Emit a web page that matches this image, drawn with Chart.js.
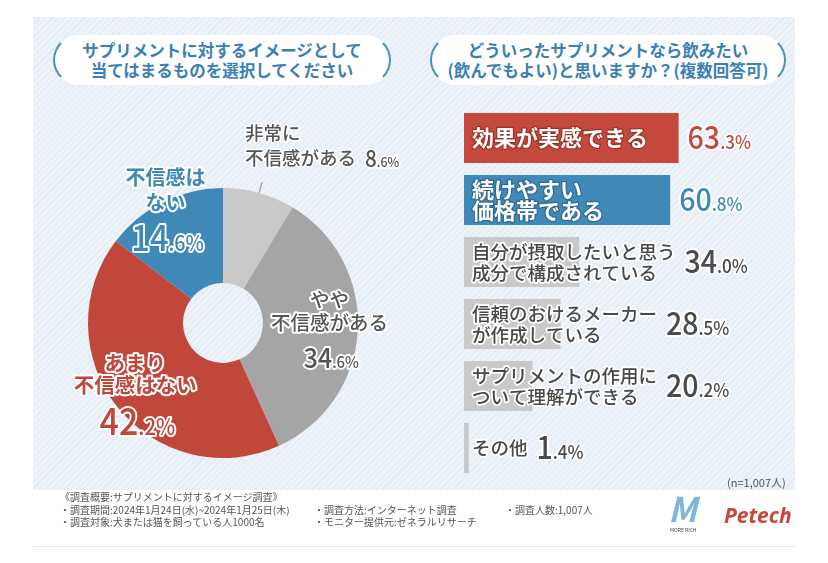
<!DOCTYPE html>
<html lang="ja">
<head>
<meta charset="utf-8">
<script src="https://cdn.jsdelivr.net/npm/chart.js@4.4.1/dist/chart.umd.min.js"></script>
<style>
  body { margin: 0; width: 828px; height: 563px; background: #fff; position: relative; overflow: hidden;
         font-family: 'Noto Sans CJK JP', 'Noto Sans', sans-serif; }
  .panel { position: absolute; left: 33px; top: 17px; width: 762px; height: 473px;
           background: repeating-linear-gradient(135deg, #e2ecf5 0px, #e2ecf5 1.5px, #edf3f9 1.5px, #edf3f9 4.5px); }
  .pill { position: absolute; top: 35px; height: 50px; box-sizing: border-box; background: #fff;
          border-radius: 26px; border: 2px solid #fff; border-left-color: #4a8fbf; border-right-color: #4a8fbf;
          color: #3a80b4; font-weight: 700; font-size: 16.5px; line-height: 20px; text-align: center; padding-top: 3px; }
  canvas { position: absolute; }
  .note { position: absolute; font-size: 11px; color: #555; }
  .foot { position: absolute; font-size: 10px; color: #555; white-space: nowrap; line-height: 12.5px; }
  .rule { position: absolute; left: 33px; top: 546px; width: 762px; height: 1px; background: #e8e8e8; }
</style>
</head>
<body>
<div class="panel"></div>
<div class="pill" style="left:53px;width:338px;">サプリメントに対するイメージとして<br>当てはまるものを選択してください</div>
<div class="pill" style="left:430px;width:356px;">どういったサプリメントなら飲みたい<br>(飲んでもよい)と思いますか？(複数回答可)</div>

<canvas id="pieChart" width="420" height="420" style="left:13px;top:113px;"></canvas>
<canvas id="barChart" width="380" height="390" style="left:440px;top:100px;"></canvas>

<div class="note" style="left:727px;top:474px;">(n=1,007人)</div>

<div class="foot" style="left:60px;top:491px;">《調査概要:サプリメントに対するイメージ調査》<br>・調査期間:2024年1月24日(水)~2024年1月25日(木)<br>・調査対象:犬または猫を飼っている人1000名</div>
<div class="foot" style="left:314px;top:503.5px;">・調査方法:インターネット調査<br>・モニター提供元:ゼネラルリサーチ</div>
<div class="foot" style="left:505px;top:503.5px;">・調査人数:1,007人</div>
<div class="foot" style="left:668px;top:490px;font-size:34px;line-height:36px;font-style:italic;font-weight:700;color:#7fb6d8;">M</div>
<div class="foot" style="left:670px;top:527px;font-size:5px;line-height:6px;color:#444;">MORE RICH</div>
<div class="foot" style="left:724px;top:502px;font-size:21px;line-height:26px;font-style:italic;font-weight:700;color:#c8473c;font-family:'Noto Sans','DejaVu Sans',sans-serif;">Petech</div>
<div class="rule"></div>

<script>
// pie: 不信感
const pieLabels = [['非常に', '不信感がある'], ['やや', '不信感がある'], ['あまり', '不信感はない'], ['不信感は', 'ない']];
const pieValues = [8.6, 34.6, 42.2, 14.6];
const pieColors = ['#c9c9c9', '#a5a5a5', '#c2473b', '#3f88b7'];
const pieTextColors = ['#555555', '#555555', '#c2473b', '#3f88b7'];

// bar: 飲みたいサプリ
const barLabels = [['効果が実感できる'], ['続けやすい', '価格帯である'], ['自分が摂取したいと思う', '成分で構成されている'],
                   ['信頼のおけるメーカー', 'が作成している'], ['サプリメントの作用に', 'ついて理解ができる'], ['その他']];
const barValues = [63.3, 60.8, 34.0, 28.5, 20.2, 1.4];
const barColors = ['#c4483c', '#4189b9', '#c9c9c9', '#c9c9c9', '#c9c9c9', '#c9c9c9'];

const JP = "'Noto Sans CJK JP', 'Noto Sans', sans-serif";

function outlined(ctx, text, x, y, font, fill, stroke, lw) {
    ctx.font = font;
    ctx.lineJoin = 'round';
    ctx.lineWidth = lw;
    ctx.strokeStyle = stroke;
    ctx.strokeText(text, x, y);
    ctx.fillStyle = fill;
    ctx.fillText(text, x, y);
}

// big integer part + small ".x%"
function drawPct(ctx, value, x, y, size, fill, stroke, align) {
    const parts = value.toFixed(1).split('.');
    const big = parts[0], small = '.' + parts[1] + '%';
    const sx = 0.92, smallSize = size * 0.6;
    ctx.font = `500 ${size}px ${JP}`;
    const wb = ctx.measureText(big).width;
    ctx.font = `500 ${smallSize}px ${JP}`;
    const ws = ctx.measureText(small).width;
    const total = (wb + ws) * sx;
    const x0 = align === 'center' ? x - total / 2 : x;
    const base = y + size * 0.37;
    ctx.save();
    ctx.translate(x0, base);
    ctx.scale(sx, 1);
    ctx.textAlign = 'left';
    ctx.textBaseline = 'alphabetic';
    outlined(ctx, big, 0, 0, `500 ${size}px ${JP}`, fill, stroke, 4);
    outlined(ctx, small, wb, 0, `500 ${smallSize}px ${JP}`, fill, stroke, 4);
    ctx.restore();
    return total;
}

const pieText = {
    id: 'pieText',
    afterDatasetsDraw(chart) {
        const ctx = chart.ctx;
        const arcs = chart.getDatasetMeta(0).data;
        ctx.save();
        ctx.textBaseline = 'middle';
        arcs.forEach((arc, i) => {
            const mid = (arc.startAngle + arc.endAngle) / 2;
            const R = arc.outerRadius;
            const col = pieTextColors[i];
            if (i === 0) {
                // small slice: leader line and label outside
                const p1 = { x: arc.x + Math.cos(mid) * R, y: arc.y + Math.sin(mid) * R };
                const p2 = { x: arc.x + Math.cos(mid) * (R + 11), y: arc.y + Math.sin(mid) * (R + 11) };
                ctx.strokeStyle = '#aaaaaa';
                ctx.lineWidth = 1.5;
                ctx.beginPath(); ctx.moveTo(p1.x, p1.y); ctx.lineTo(p2.x, p2.y); ctx.stroke();
                const lx = p2.x - 17;
                ctx.textAlign = 'left';
                const f = `500 18.5px ${JP}`;
                outlined(ctx, pieLabels[i][0], lx, p2.y - 49, f, col, '#ffffff', 3);
                outlined(ctx, pieLabels[i][1], lx, p2.y - 24, f, col, '#ffffff', 3);
                ctx.font = f;
                const w = ctx.measureText(pieLabels[i][1]).width;
                drawPct(ctx, pieValues[i], lx + w + 9, p2.y - 24, 22.5, col, '#ffffff', 'left');
                return;
            }
            const k = [0, 0.79, 0.83, 0.96][i];
            const cx = arc.x + Math.cos(mid) * R * k;
            const cy = arc.y + Math.sin(mid) * R * k;
            const size = [0, 19.5, 20.5, 20][i];
            const numSize = [0, 27, 37, 35.5][i];
            const offs = [[0, 0, 0], [-29, -6, 29], [-30, -8, 29], [-29, -4, 31]][i];
            ctx.textAlign = 'center';
            const f = `${i === 1 ? 500 : 700} ${size}px ${JP}`;
            outlined(ctx, pieLabels[i][0], cx, cy + offs[0], f, col, '#ffffff', 4);
            outlined(ctx, pieLabels[i][1], cx, cy + offs[1], f, col, '#ffffff', 4);
            drawPct(ctx, pieValues[i], cx + 2, cy + offs[2], numSize, col, '#ffffff', 'center');
        });
        ctx.restore();
    }
};

const barText = {
    id: 'barText',
    afterDatasetsDraw(chart) {
        const ctx = chart.ctx;
        const bars = chart.getDatasetMeta(0).data;
        ctx.save();
        ctx.textBaseline = 'middle';
        ctx.textAlign = 'left';
        bars.forEach((bar, i) => {
            const lines = barLabels[i];
            const strong = i < 2;
            const f = strong ? `700 22px ${JP}` : `500 18.5px ${JP}`;
            const fill = strong ? '#ffffff' : '#484848';
            const stroke = i === 0 ? '#9c3128' : (i === 1 ? '#2d6a93' : '#ffffff');
            const lx = bar.base + 8;
            let maxW = 0;
            lines.forEach((t, j) => {
                const dy = lines.length === 1 ? 0 : (j === 0 ? -10.5 : 10.5);
                outlined(ctx, t, lx, bar.y + dy, f, fill, stroke, strong ? 2.5 : 3.5);
                ctx.font = f;
                maxW = Math.max(maxW, ctx.measureText(t).width);
            });
            const vx = Math.max(bar.x, lx + maxW) + 9;
            const vcol = i === 0 ? '#c4483c' : (i === 1 ? '#3f88b7' : '#4a4a4a');
            drawPct(ctx, barValues[i], vx, bar.y, 31, vcol, '#ffffff', 'left');
        });
        ctx.restore();
    }
};

new Chart(document.getElementById('pieChart').getContext('2d'), {
    type: 'doughnut',
    data: {
        labels: pieLabels.map(l => l.join('')),
        datasets: [{
            data: pieValues,
            backgroundColor: pieColors,
            borderWidth: 0
        }]
    },
    options: {
        responsive: false,
        animation: false,
        devicePixelRatio: 1,
        cutout: '29.6%',
        layout: { padding: 75 },
        plugins: { legend: { display: false }, tooltip: { enabled: false } }
    },
    plugins: [pieText]
});

new Chart(document.getElementById('barChart').getContext('2d'), {
    type: 'bar',
    data: {
        labels: barLabels,
        datasets: [{
            data: barValues,
            backgroundColor: barColors,
            borderWidth: 0,
            barPercentage: 1,
            categoryPercentage: 0.806
        }]
    },
    options: {
        indexAxis: 'y',
        responsive: false,
        animation: false,
        devicePixelRatio: 1,
        layout: { padding: { left: 24, top: 7, bottom: 11, right: 0 } },
        scales: {
            x: { display: false, min: 0, max: 105 },
            y: { display: false }
        },
        plugins: { legend: { display: false }, tooltip: { enabled: false } }
    },
    plugins: [barText]
});
</script>
</body>
</html>
